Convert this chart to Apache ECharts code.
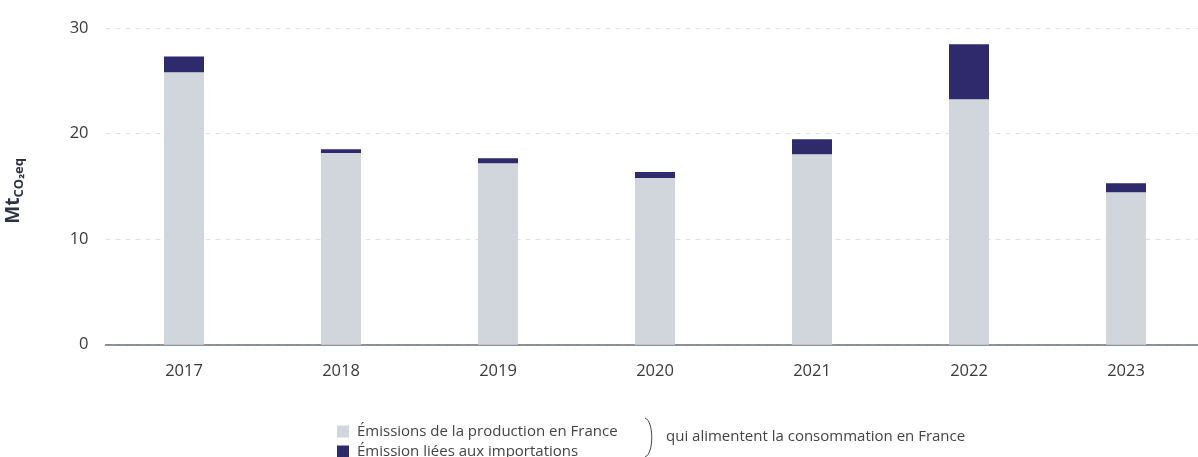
<!DOCTYPE html>
<html>
<head>
<meta charset="utf-8">
<script src="https://cdn.jsdelivr.net/npm/echarts@6/dist/echarts.min.js"></script>
<style>
  html, body { margin: 0; padding: 0; background: #fff; }
  #main { width: 1198px; height: 457px; }
</style>
</head>
<body>
<div id="main"></div>
<script>
// années
var years = ['2017', '2018', '2019', '2020', '2021', '2022', '2023'];
// émissions de la production en France (Mt CO2eq)
var production = [25.8, 18.15, 17.2, 15.8, 18.05, 23.25, 14.45];
// émissions liées aux importations
var imports = [1.5, 0.37, 0.47, 0.55, 1.42, 5.2, 0.85];
var yTicks = [0, 10, 20, 30];
var seriesNames = ['Émissions de la production en France', 'Émission liées aux importations'];

var font = '"Open Sans", "Noto Sans", sans-serif';
var chart = echarts.init(document.getElementById('main'));

function legendItem(name, top) {
  return {
    orient: 'horizontal',
    left: 337,
    top: top,
    itemWidth: 12,
    itemHeight: 12,
    icon: 'rect',
    padding: 0,
    textStyle: { fontSize: 15, color: '#444', fontFamily: font, padding: [0, 0, 0, 3] },
    data: [name]
  };
}

chart.setOption({
  animation: false,
  textStyle: { fontFamily: font },
  grid: { left: 105.5, top: 28, width: 1099, height: 316.7, outerBoundsMode: 'none', containLabel: false },
  legend: [legendItem(seriesNames[0], 424), legendItem(seriesNames[1], 444)],
  xAxis: {
    type: 'category',
    data: years,
    axisLine: { lineStyle: { color: '#6b7079', width: 1.5 } },
    axisTick: { show: false },
    axisLabel: { fontSize: 16.5, color: '#3a3a3a', margin: 18 }
  },
  yAxis: {
    type: 'value',
    min: yTicks[0],
    max: yTicks[yTicks.length - 1],
    interval: 10,
    name: '{a|Mt}{b|CO₂eq}',
    nameLocation: 'middle',
    nameRotate: 90,
    nameGap: 80,
    nameTextStyle: {
      padding: [0, 9, 0, 0],
      rich: {
        a: { fontSize: 19, fontWeight: 'bold', color: '#2d3344', fontFamily: font },
        b: { fontSize: 13, fontWeight: 'bold', color: '#2d3344', fontFamily: font, padding: [10, 0, 0, 0] }
      }
    },
    axisLabel: { fontSize: 16.5, color: '#3a3a3a', margin: 17 },
    splitLine: { lineStyle: { color: '#dfe2e7', type: [5, 5] } }
  },
  series: [
    {
      name: seriesNames[0],
      type: 'bar',
      stack: 'total',
      barWidth: 40,
      itemStyle: { color: '#d1d5dc' },
      data: production
    },
    {
      name: seriesNames[1],
      type: 'bar',
      stack: 'total',
      barWidth: 40,
      itemStyle: { color: '#2e2a6b' },
      data: imports
    }
  ],
  graphic: [
    {
      type: 'bezierCurve',
      shape: { x1: 645, y1: 418, cpx1: 654, cpy1: 421, cpx2: 654, cpy2: 454, x2: 645, y2: 457 },
      style: { fill: null, stroke: '#444', lineWidth: 1 }
    },
    {
      type: 'text',
      left: 666,
      top: 429,
      style: { text: 'qui alimentent la consommation en France', fontSize: 15, fill: '#444', fontFamily: font }
    }
  ]
});
</script>
</body>
</html>
